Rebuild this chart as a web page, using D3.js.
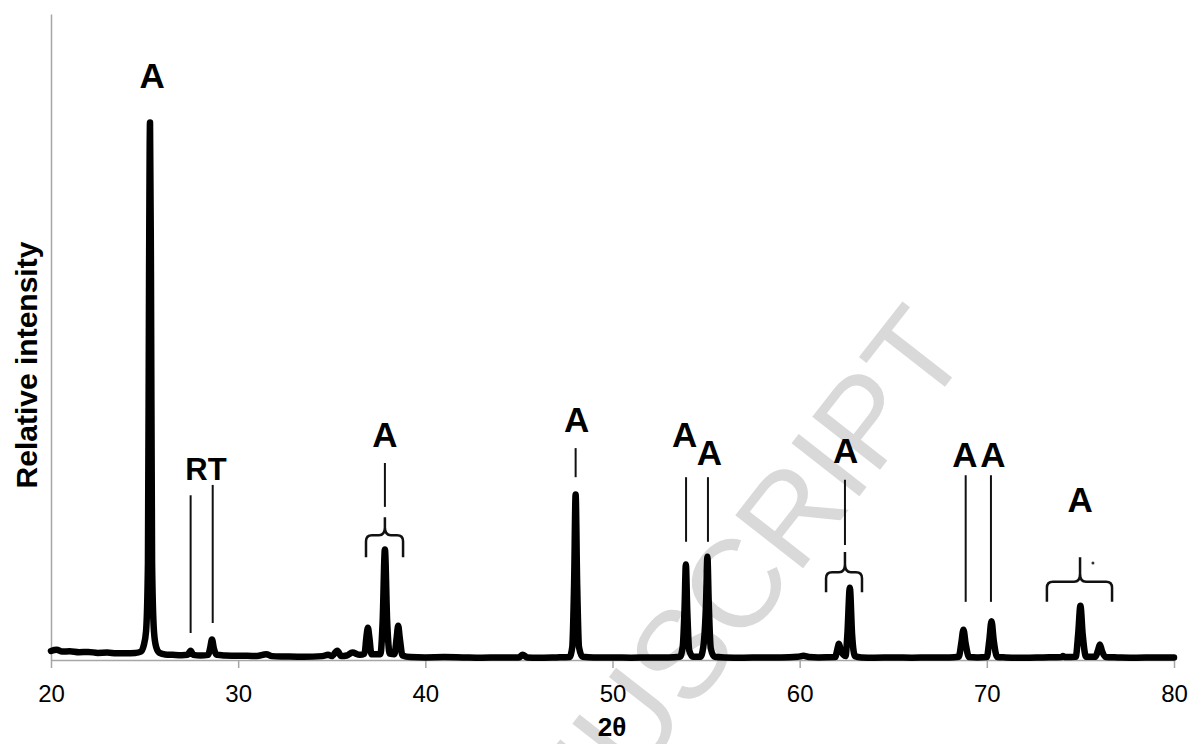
<!DOCTYPE html>
<html>
<head>
<meta charset="utf-8">
<script src="https://cdn.jsdelivr.net/npm/d3@7"></script>
<style>
  body { margin: 0; background: #fff; }
  svg { font-family: "Liberation Sans", Arial, sans-serif; }
</style>
</head>
<body>
<svg id="xrd" width="1191" height="744"></svg>
<script>
// 2θ tick labels
const xTicks = [20, 30, 40, 50, 60, 70, 80];

// diffraction profile: [2θ, intensity (a.u.)]
const profile = [
  [20.0, 14], [20.3, 16], [20.6, 13], [21.0, 13.5], [21.5, 12], [22.0, 12.5], [22.5, 11], [23.0, 11.5],
  [23.5, 10.5], [24.0, 10.5], [24.5, 11], [24.8, 13],
  [24.95, 22], [25.08, 45], [25.18, 150], [25.24, 600], [25.29, 832], [25.34, 600], [25.40, 150],
  [25.5, 45], [25.62, 20], [25.8, 11], [26.1, 8.5],
  [26.5, 8], [27.0, 7.5], [27.3, 8], [27.46, 14.5], [27.6, 8], [28.0, 7], [28.4, 8],
  [28.5, 18], [28.6, 31.7], [28.7, 18], [28.85, 8], [29.3, 7], [30.0, 6.5], [30.5, 6.5], [31.0, 6],
  [31.5, 9], [31.8, 6], [32.5, 5.5], [33.5, 5], [34.5, 6], [34.8, 8], [35.0, 6], [35.3, 14.5],
  [35.5, 6], [35.8, 7], [36.1, 11.5], [36.5, 8], [36.75, 10],
  [36.85, 35], [36.93, 50], [37.01, 35], [37.12, 9], [37.6, 9],
  [37.72, 60], [37.84, 171], [37.96, 60], [38.1, 10], [38.35, 9],
  [38.47, 35], [38.55, 53], [38.63, 35], [38.78, 7], [39.2, 4.5],
  [40, 4], [41, 4.5], [42, 4], [43, 3.5], [44, 4], [45.0, 4], [45.2, 8], [45.45, 4], [46, 3.5],
  [47, 4], [47.7, 4.5], [47.85, 20], [47.95, 120], [48.03, 256], [48.11, 120], [48.21, 20], [48.4, 5],
  [49, 4], [50, 4], [51, 3.5], [52, 4], [53, 4], [53.6, 5],
  [53.75, 20], [53.85, 80], [53.92, 148], [53.99, 80], [54.1, 15], [54.3, 5], [54.7, 5],
  [54.85, 20], [55.0, 90], [55.07, 160], [55.14, 90], [55.25, 18], [55.45, 5],
  [56, 4], [57, 3.5], [58, 4], [59, 4], [59.9, 5], [60.2, 6.5], [60.5, 4.5], [61, 4], [61.9, 4.5],
  [62.0, 15], [62.1, 25], [62.2, 15], [62.45, 6],
  [62.55, 40], [62.68, 112], [62.8, 40], [62.95, 6], [63.3, 4],
  [64, 3.5], [65, 4], [66, 3.5], [67, 4], [68, 4], [68.5, 5],
  [68.63, 25], [68.75, 47], [68.87, 25], [69.05, 4.5], [69.5, 4], [70.0, 4.5],
  [70.13, 30], [70.25, 60], [70.37, 30], [70.55, 4.5], [71, 4], [72, 3.5], [73, 4], [74, 4.5],
  [74.06, 6], [74.2, 4.5], [74.75, 5], [74.88, 40], [75.0, 84], [75.12, 40], [75.3, 5], [75.8, 5],
  [75.93, 14], [76.04, 24], [76.15, 14], [76.35, 4.5], [77, 4], [78, 3.5], [79, 4], [80, 4]
];

// phase labels: text, 2θ, intensity of text baseline
const labelText = ["A", "RT", "A", "A", "A", "A", "A", "A", "A", "A"];
const labelPos = [25.40, 28.28, 37.84, 48.09, 53.85, 55.18, 62.45, 68.83, 70.33, 74.98];
const labelBase = [885, 279, 330, 353, 330, 302, 305, 299, 299, 229];
const labelBig = [true, false, true, true, true, true, true, true, true, true];

// marker lines: 2θ, lower end, upper end (intensity)
const markerPos = [27.46, 28.64, 37.84, 48.03, 53.93, 55.10, 62.42, 68.87, 70.22];
const markerLow = [41.8, 57.3, 237, 283, 183, 183, 178, 90, 90];
const markerHigh = [255, 271, 305, 328, 283, 283, 279, 286, 286];

// braces: left 2θ, right 2θ, centre 2θ, end, bar, cusp (intensity)
const braceLeft = [36.83, 61.41, 73.21];
const braceRight = [38.81, 63.33, 76.69];
const braceMid = [37.84, 62.42, 74.98];
const braceEnd = [159, 105, 90];
const braceBar = [193, 136, 121];
const braceCusp = [221, 167, 159];

let svg = d3.select("#xrd");
let width = +svg.attr("width");
let height = +svg.attr("height");

let x = d3.scaleLinear().domain([20, 80]).range([51, 1174]);
let y = d3.scaleLinear().domain([0, 1000]).range([660, 14]);

// watermark
svg.append("text")
    .attr("transform", "translate(972,352) rotate(-52)")
    .attr("text-anchor", "end")
    .style("font-size", "125px")
    .style("fill", "#d9d9d9")
    .text("ACCEPTED MANUSCRIPT");

// axes
let xAxis = svg.append("g")
    .attr("transform", `translate(0,${y(0)})`)
    .call(d3.axisBottom(x).tickValues(xTicks).tickSize(8).tickSizeOuter(0).tickPadding(17));
xAxis.select(".domain").style("stroke", "#a6a6a6").style("stroke-width", 1.5);
xAxis.selectAll(".tick line").style("stroke", "#a6a6a6").style("stroke-width", 1.5);
xAxis.selectAll(".tick text")
    .style("font-family", "'Liberation Sans', Arial, sans-serif")
    .style("font-size", "24px")
    .style("fill", "#000");

let yAxis = svg.append("g")
    .attr("transform", `translate(${x(20)},0)`)
    .call(d3.axisLeft(y).ticks(0).tickSize(0).tickSizeOuter(0));
yAxis.select(".domain").style("stroke", "#a6a6a6").style("stroke-width", 1.5);

svg.append("text")
    .attr("transform", "translate(37,365) rotate(-90)")
    .attr("text-anchor", "middle")
    .style("font-size", "30px")
    .style("font-weight", "bold")
    .text("Relative intensity");

svg.append("text")
    .attr("x", 612)
    .attr("y", 736)
    .attr("text-anchor", "middle")
    .style("font-size", "26px")
    .style("font-weight", "bold")
    .text("2θ");

// marker lines
markerPos.forEach((p, i) => {
    svg.append("line")
        .attr("x1", x(p)).attr("x2", x(p))
        .attr("y1", y(markerLow[i])).attr("y2", y(markerHigh[i]))
        .style("stroke", "#111")
        .style("stroke-width", 2);
});

// braces
braceLeft.forEach((l, i) => {
    let x1 = x(l), x2 = x(braceRight[i]), xc = x(braceMid[i]);
    let yE = y(braceEnd[i]), yH = y(braceBar[i]), yC = y(braceCusp[i]);
    let r = 6;
    let p = d3.path();
    p.moveTo(x1, yE);
    p.lineTo(x1, yH + r);
    p.quadraticCurveTo(x1, yH, x1 + r, yH);
    p.lineTo(xc - r, yH);
    p.quadraticCurveTo(xc, yH, xc, yH - 8);
    p.lineTo(xc, yC);
    p.moveTo(xc, yH - 8);
    p.quadraticCurveTo(xc, yH, xc + r, yH);
    p.lineTo(x2 - r, yH);
    p.quadraticCurveTo(x2, yH, x2, yH + r);
    p.lineTo(x2, yE);
    svg.append("path")
        .attr("d", p.toString())
        .style("fill", "none")
        .style("stroke", "#111")
        .style("stroke-width", 2.5);
});

// stray dot near the last brace
svg.append("circle")
    .attr("cx", x(75.67)).attr("cy", y(150))
    .attr("r", 1.5)
    .style("fill", "#333");

// labels
labelText.forEach((t, i) => {
    svg.append("text")
        .attr("x", x(labelPos[i]))
        .attr("y", y(labelBase[i]))
        .attr("text-anchor", "middle")
        .style("font-size", labelBig[i] ? "35px" : "31px")
        .style("font-weight", "bold")
        .text(t);
});

// diffraction curve
let line = d3.line()
    .x(d => x(d[0]))
    .y(d => y(d[1]))
    .curve(d3.curveMonotoneX);

svg.append("path")
    .datum(profile)
    .attr("d", line)
    .style("fill", "none")
    .style("stroke", "#000")
    .style("stroke-width", 6.5)
    .style("stroke-linejoin", "round")
    .style("stroke-linecap", "round");
</script>
</body>
</html>
